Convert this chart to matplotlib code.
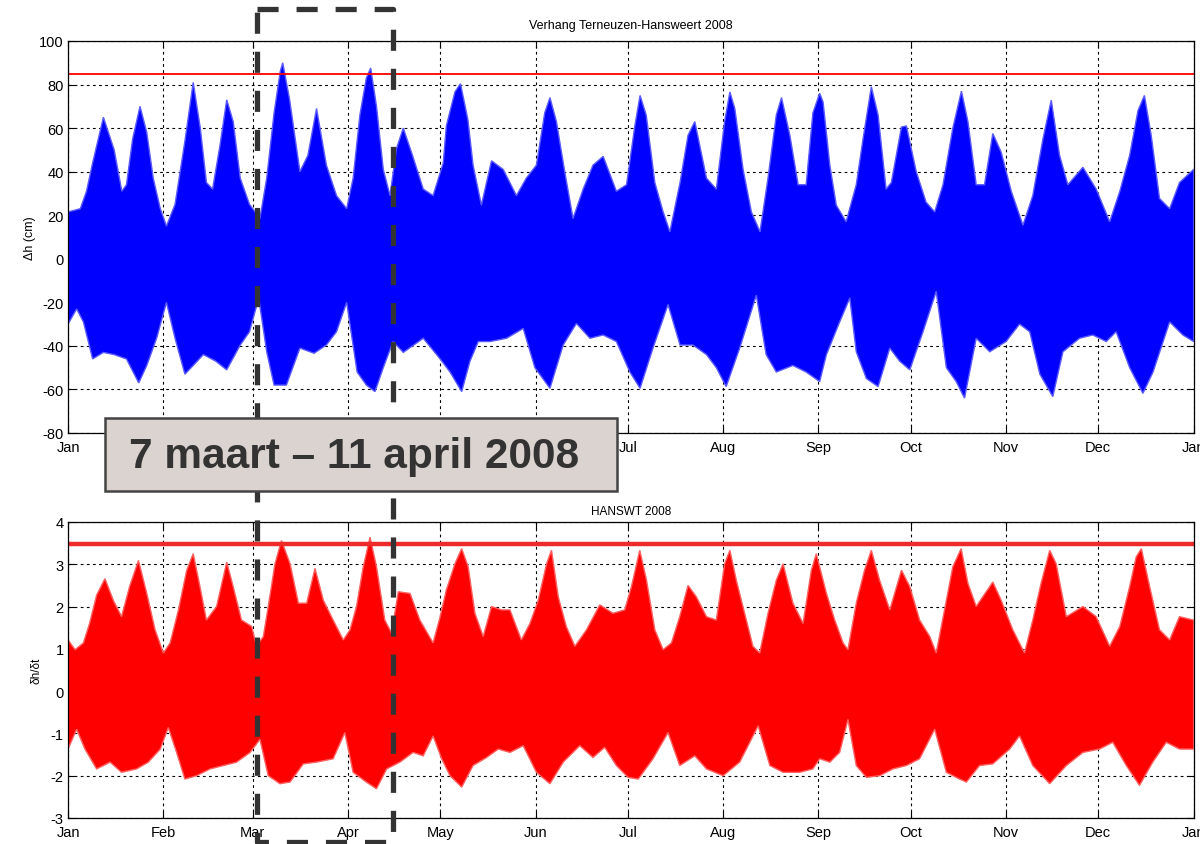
import numpy as np
import matplotlib
matplotlib.use("Agg")
import matplotlib.pyplot as plt
from matplotlib.patches import Rectangle
from matplotlib.lines import Line2D

plt.rcParams['font.family'] = ['Liberation Sans', 'DejaVu Sans']
plt.rcParams['axes.unicode_minus'] = False

# month starts in 2008 (day of year, leap year) and their labels
month_days = [0, 31, 60, 91, 121, 152, 182, 213, 244, 274, 305, 335, 366]
month_labels = ['Jan', 'Feb', 'Mar', 'Apr', 'May', 'Jun', 'Jul', 'Aug',
                'Sep', 'Oct', 'Nov', 'Dec', 'Jan']

# --- Verhang Terneuzen-Hansweert (cm): envelope ---
dh_up_day = [0, 4, 6, 8, 11.5, 15, 17.5, 19, 21, 23.4, 25.6, 27.7, 30, 32, 34.8,
             38, 40.7, 43, 45, 47, 49.4, 51.6, 53.7, 56, 59, 62.4, 64.6, 67, 69,
             69.8, 72, 75.4, 78, 80.8, 84, 87.3, 90.6, 92.7, 94.9, 97, 98.4, 100.3,
             102.5, 104.7, 106.8, 109, 112, 115.5, 118.7, 122, 123, 125.8, 127.6,
             130, 131.7, 134.4, 137.7, 141.5, 145.8, 149, 152.3, 155, 156.7, 158.8,
             161.5, 164.2, 167.5, 170.7, 174, 178.3, 181.6, 184.3, 186, 188, 190.8,
             193.5, 195.7, 199, 201.6, 203.8, 207.6, 210.8, 213.5, 215.2, 216.8,
             219.5, 222.2, 225, 227.6, 230.3, 232, 234.7, 237.4, 240, 242.2, 244.4,
             245.5, 247.7, 249.8, 253, 256.3, 258.5, 261.2, 263.4, 266, 267.7, 271,
             272.6, 275.8, 279, 281.8, 284.5, 287.7, 290.5, 292.6, 295.3, 298,
             300.7, 303.4, 306.7, 310.5, 313.7, 317, 319.7, 322.4, 325.1, 330,
             334.3, 338.7, 342, 345.2, 347.9, 350, 352.2, 354.9, 358.2, 361.4, 366]
dh_up = [21.5, 23, 31, 44, 65, 50, 31, 34, 55, 70, 58, 37, 23, 15, 25,
         54, 81, 60, 35, 32, 52, 73, 63, 37, 25, 18.5, 37, 67, 86,
         90, 73.5, 40, 47.5, 69, 43, 29, 23, 37, 66, 83, 87.6, 70,
         41, 29, 50.6, 60, 47.5, 32, 29, 44, 61, 76.6, 80.4,
         64, 43, 24.6, 45, 41, 29, 37, 43, 67, 74, 63,
         40, 18.5, 32, 43, 47, 31, 34, 61, 75, 66, 35,
         21.5, 12.4, 35, 56.7, 63, 37, 32, 63, 76.6, 69,
         41, 21.5, 12.4, 37, 66, 74, 56.7, 34, 34, 67, 76,
         72, 43, 24.6, 17, 34, 55, 79, 66, 32, 35, 60.5,
         61, 40, 26, 21.5, 34, 60, 77, 63, 34, 34,
         57.5, 49, 31, 15.4, 29, 55, 72.8, 47.5, 34, 42,
         32, 17, 31, 47.5, 68, 75, 56.7, 27.7, 23, 35, 41]
dh_lo_day = [0, 2.8, 5, 8, 11.5, 15, 19, 23, 25.6, 28.8, 32, 34.8, 38, 40.7, 44,
             48, 51.6, 56, 59, 62, 64.6, 67, 71, 75.4, 80, 84, 87.3, 90.6, 94, 97,
             99.8, 102.5, 105.7, 109, 112, 115.5, 121, 124.2, 128, 130.7, 133.4,
             137.2, 142.6, 148, 151.8, 156.7, 161, 165.3, 169.7, 174, 178.3, 182.7,
             186, 190.2, 195.1, 199, 203.2, 207.6, 210.8, 214, 218.4, 223.8, 227,
             230.3, 235.7, 240, 244.4, 246.6, 250.9, 254.2, 256.3, 259.6, 263.4,
             267.2, 270.4, 273.7, 278, 282.3, 285.6, 288.8, 291.5, 295.3, 299.7,
             305, 309.4, 312.7, 316, 320.2, 323.5, 328.9, 333.2, 337.6, 340.8,
             345.2, 349.5, 352.8, 358.2, 362.5, 366]
dh_lo = [-30, -23, -29, -46, -43, -44, -46, -57, -49, -36.5, -20, -36.5, -53, -49, -44,
         -47, -51, -39.6, -33.5, -18, -42.7, -58, -58, -41, -43.4, -39.6, -33.5, -20, -52, -58,
         -61, -50, -38, -43, -40, -36.5, -46, -52, -61, -47, -38,
         -38, -36.5, -32, -50, -59.5, -39.6, -29.7, -36.5, -35, -38, -52,
         -59.5, -41, -21, -39.6, -39.6, -44, -50, -58.7, -41, -16.7, -44,
         -52, -49, -52, -56.4, -44, -29, -18, -42.7, -55, -58.7,
         -41, -47, -51, -33.5, -15, -50, -56.4, -64, -36.5, -42.7,
         -38, -30, -33.5, -53, -63.3, -42.7, -36.5, -35, -38, -33.5,
         -50, -61.8, -52, -29, -35, -38]

# --- HANSWT dh/dt: envelope ---
dt_up_day = [0, 2.3, 5, 7, 9.3, 12, 14.7, 17.4, 20, 22.9, 25.6, 28.3, 31, 33.2, 35.9,
             38.6, 40.7, 42.9, 45, 48.3, 51.6, 53.7, 56.4, 59.7, 61.3, 63.5, 65.1,
             67.3, 69.4, 72.2, 74.9, 77.6, 80.3, 83, 86.2, 89.5, 91.7, 93.8, 96,
             98.2, 100.3, 103, 105.2, 107.4, 111.2, 114.4, 118.7, 121, 123, 125.8,
             128, 130.1, 132.3, 135, 137.7, 141, 143.7, 147.4, 150.2, 152.9, 155.6,
             157.2, 159.4, 162, 164.8, 168.6, 172.9, 177.2, 181, 183.2, 185.9, 188.1,
             190.8, 193.5, 196.2, 198.9, 201.6, 204.3, 207.6, 210.8, 213.5, 215.2,
             217.3, 220, 222.7, 224.9, 227.6, 230.3, 232.5, 235.7, 239, 241.7, 243.3,
             246.6, 249.3, 252, 253.6, 256.3, 259, 261.2, 263.9, 267.2, 271, 273.7,
             276.9, 280.2, 282.3, 285, 287.7, 290.4, 292.6, 295.3, 300.7, 303.4,
             307.2, 311, 313.7, 316.4, 319.2, 321.3, 324.6, 330, 334.3, 338.7, 342,
             345.2, 347.3, 349, 351.7, 354.9, 358.2, 361.4, 366]
dt_up = [1.21, 0.98, 1.14, 1.6, 2.27, 2.66, 2.15, 1.76, 2.47, 3.09, 2.31, 1.45, 0.9, 1.14, 1.92,
         2.86, 3.25, 2.47, 1.68, 2.0, 3.05, 2.47, 1.68, 1.53, 1.06, 1.29, 2.0,
         3.01, 3.56, 3.01, 2.08, 2.08, 2.9, 2.15, 1.68, 1.21, 1.45, 2.0, 2.94,
         3.64, 2.94, 1.68, 1.37, 2.35, 2.31, 1.68, 1.14, 1.76, 2.39, 3.01,
         3.37, 2.94, 1.84, 1.29, 2.0, 1.92, 1.92, 1.21, 1.6, 2.15, 3.01,
         3.33, 2.23, 1.53, 1.06, 1.45, 2.04, 1.84, 1.92, 2.47, 3.33, 2.62,
         1.45, 0.98, 1.14, 1.76, 2.5, 2.23, 1.76, 1.68, 3.01, 3.33,
         2.62, 1.84, 1.06, 0.9, 1.84, 2.62, 3.01, 2.08, 1.6, 2.86, 3.25,
         2.31, 1.68, 1.14, 0.98, 2.08, 2.86, 3.33, 2.62, 1.92, 2.86, 2.47,
         1.68, 1.29, 0.9, 1.92, 2.94, 3.37, 2.55, 2.0, 2.58, 2.15,
         1.45, 0.9, 1.68, 2.55, 3.33, 3.01, 1.76, 2.0, 1.76, 1.06, 1.53,
         2.47, 3.17, 3.37, 2.47, 1.45, 1.21, 1.76, 1.68]
dt_lo_day = [0, 2.8, 5.5, 9.3, 13.7, 17.4, 22.3, 26.1, 30, 32.6, 35.3, 38, 41.8, 46.2,
             50.5, 54.8, 59.2, 62.4, 65.1, 68.9, 72.2, 76.5, 80.8, 86.2, 90, 92.7, 97,
             100.3, 103.6, 107.9, 112.2, 115.5, 118.7, 121.5, 124.2, 128, 131.7, 136.1,
             139.9, 143.7, 148, 152.3, 156.7, 161, 166.4, 170.7, 174.5, 178.3, 182.1,
             185.4, 190.2, 195.1, 198.9, 203.8, 207.6, 213, 218.4, 224.4, 228.2, 232.5,
             237.9, 242.2, 244.4, 247.7, 250.9, 253.6, 256.3, 259.6, 263.9, 268.2,
             272.6, 276.9, 281.8, 285.6, 289.9, 292.1, 296.4, 300.7, 306.2, 309.4,
             313.7, 319.2, 324.6, 330, 335.4, 339.7, 344.1, 348.4, 352.7, 357.1, 361.4, 366]
dt_lo = [-1.37, -0.9, -1.37, -1.84, -1.68, -1.92, -1.84, -1.68, -1.37, -0.86, -1.45, -2.08, -2.0, -1.84,
         -1.76, -1.68, -1.45, -1.14, -2.0, -2.19, -2.15, -1.72, -1.68, -1.6, -0.98, -1.92, -2.15,
         -2.31, -1.84, -1.68, -1.45, -1.53, -1.06, -1.6, -2.0, -2.27, -1.76, -1.57,
         -1.37, -1.45, -1.29, -1.92, -2.19, -1.68, -1.29, -1.57, -1.33, -1.76, -2.04,
         -2.08, -1.6, -0.98, -1.76, -1.53, -1.84, -2.0, -1.68, -0.82, -1.76, -1.92,
         -1.92, -1.84, -1.6, -1.68, -1.45, -0.67, -1.76, -2.04, -2.0, -1.84,
         -1.76, -1.6, -0.9, -1.92, -2.08, -2.15, -1.76, -1.72, -1.37, -1.06,
         -1.76, -2.19, -1.76, -1.45, -1.37, -1.21, -1.76, -2.23, -1.68, -1.21, -1.37, -1.37]

dh_limit = 85
dt_limit = 3.47


def style_axes(ax, yticks):
    ax.set_xlim(0, 366)
    ax.set_xticks(month_days)
    ax.set_xticklabels(month_labels)
    ax.set_yticks(yticks)
    ax.set_ylim(yticks[0], yticks[-1])
    ax.tick_params(direction='in', top=True, right=True, length=5,
                   labelsize=10.5)
    ax.tick_params(axis='x', pad=5)
    ax.tick_params(axis='y', pad=3)
    ax.grid(True, color='black', linestyle=(0, (2.5, 3)), linewidth=0.8)
    ax.set_axisbelow(True)
    for s in ax.spines.values():
        s.set_linewidth(0.9)
        s.set_zorder(4)


fig = plt.figure(figsize=(12, 8.45), dpi=100)

# top panel
ax1 = fig.add_axes([0.0567, 0.4864, 0.938, 0.4639])
ax1.fill(np.concatenate([dh_up_day, dh_lo_day[::-1]]),
         np.concatenate([dh_up, dh_lo[::-1]]),
         facecolor='#0000ff', edgecolor='#5a5aff', linewidth=1.0, zorder=1)
ax1.axhline(dh_limit, color='red', linewidth=1.3, zorder=3)
style_axes(ax1, list(range(-80, 101, 20)))
# Feb..Jun labels sit under the annotation box
for lab in ax1.get_xticklabels()[1:6]:
    lab.set_visible(False)
ax1.set_title('Verhang Terneuzen-Hansweert 2008', fontsize=9, pad=9)
ax1.set_ylabel('\u0394h (cm)', fontsize=9, labelpad=2)

# bottom panel
ax2 = fig.add_axes([0.0567, 0.0308, 0.938, 0.3503])
ax2.fill(np.concatenate([dt_up_day, dt_lo_day[::-1]]),
         np.concatenate([dt_up, dt_lo[::-1]]),
         facecolor='#ff0000', edgecolor='#ff6060', linewidth=1.0, zorder=1)
ax2.axhline(dt_limit, color='#ee2a2a', linewidth=3.2, zorder=3)
style_axes(ax2, list(range(-3, 5)))
ax2.set_title('HANSWT 2008', fontsize=8.5, pad=6)
ax2.set_ylabel('\u03b4h/\u03b4t', fontsize=8.5, labelpad=6)

# dashed selection frame across both panels
fx0, fx1 = 257 / 1200, 393 / 1200
fy0, fy1 = 1 - 843 / 845, 1 - 10 / 845
frame = Line2D([fx0, fx1, fx1, fx0, fx0], [fy1, fy1, fy0, fy0, fy1],
               transform=fig.transFigure, color='#333333', linewidth=3.8,
               linestyle=(0, (4, 3.4)), zorder=10)
fig.add_artist(frame)

# label box
box = Rectangle((105 / 1200, 1 - 492 / 845), 512 / 1200, 73 / 845,
                transform=fig.transFigure, facecolor='#dbd3d0',
                edgecolor='#444444', linewidth=1.8, zorder=11)
fig.add_artist(box)
fig.text(354 / 1200, 1 - 457 / 845, '7 maart \u2013 11 april 2008',
         fontsize=30.5, fontweight='bold', color='#333333',
         ha='center', va='center', zorder=12)

fig.savefig('out.png', dpi=100)
